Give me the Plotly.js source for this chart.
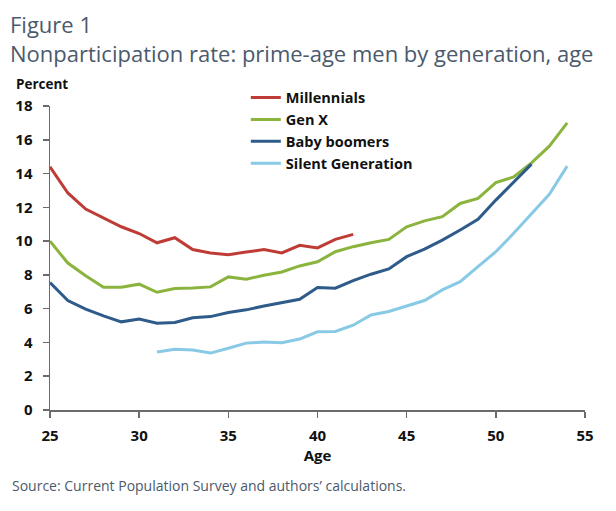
<!DOCTYPE html>
<html>
<head>
<meta charset="utf-8">
<script src="https://cdn.plot.ly/plotly-3.0.1.min.js"></script>
<style>
  html, body { margin: 0; padding: 0; background: #fff; }
  #chart { width: 616px; height: 511px; }
</style>
</head>
<body>
<div id="chart"></div>
<script>
// Data (age -> nonparticipation rate, percent)
const millAges = [25, 26, 27, 28, 29, 30, 31, 32, 33, 34, 35, 36, 37, 38, 39, 40, 41, 42];
const millVals = [14.4, 12.85, 11.9, 11.35, 10.85, 10.45, 9.9, 10.2, 9.5, 9.3, 9.2, 9.35, 9.5, 9.3, 9.75, 9.6, 10.1, 10.4];

const genxAges = [25, 26, 27, 28, 29, 30, 31, 32, 33, 34, 35, 36, 37, 38, 39, 40, 41, 42, 43, 44, 45, 46, 47, 48, 49, 50, 51, 52, 53, 54];
const genxVals = [10.0, 8.7, 7.95, 7.27, 7.27, 7.45, 6.97, 7.19, 7.22, 7.29, 7.88, 7.74, 7.98, 8.17, 8.53, 8.78, 9.37, 9.67, 9.9, 10.1, 10.85, 11.2, 11.45, 12.23, 12.53, 13.47, 13.8, 14.63, 15.62, 17.0];

const boomAges = [25, 26, 27, 28, 29, 30, 31, 32, 33, 34, 35, 36, 37, 38, 39, 40, 41, 42, 43, 44, 45, 46, 47, 48, 49, 50, 51, 52];
const boomVals = [7.55, 6.48, 5.97, 5.57, 5.22, 5.38, 5.14, 5.18, 5.46, 5.53, 5.77, 5.93, 6.16, 6.36, 6.56, 7.25, 7.21, 7.66, 8.04, 8.35, 9.08, 9.53, 10.06, 10.66, 11.29, 12.43, 13.51, 14.56];

const silentAges = [31, 32, 33, 34, 35, 36, 37, 38, 39, 40, 41, 42, 43, 44, 45, 46, 47, 48, 49, 50, 51, 52, 53, 54];
const silentVals = [3.43, 3.6, 3.55, 3.37, 3.66, 3.96, 4.02, 3.98, 4.2, 4.63, 4.65, 5.02, 5.63, 5.83, 6.16, 6.48, 7.11, 7.6, 8.49, 9.37, 10.46, 11.6, 12.77, 14.44];

const seriesNames = ['Millennials', 'Gen X', 'Baby boomers', 'Silent Generation'];
const seriesColors = ['#bf3b35', '#8bb43e', '#2e5b8a', '#88c9e6'];

const xTicks = [25, 30, 35, 40, 45, 50, 55];
const yTicks = [0, 2, 4, 6, 8, 10, 12, 14, 16, 18];

const FONT = '"Open Sans", Lato, sans-serif';
const TITLE_COLOR = '#4b5a6c';

const xs = [millAges, genxAges, boomAges, silentAges];
const ys = [millVals, genxVals, boomVals, silentVals];

const data = seriesNames.map((name, i) => ({
    x: xs[i],
    y: ys[i],
    name: name,
    type: 'scatter',
    mode: 'lines',
    line: { color: seriesColors[i], width: 3 },
    hoverinfo: 'x+y+name'
}));

const layout = {
    width: 616,
    height: 511,
    paper_bgcolor: '#ffffff',
    plot_bgcolor: '#ffffff',
    margin: { l: 50, r: 31, t: 106, b: 101 },
    font: { family: FONT, color: '#111111' },
    title: {
        text: 'Figure 1<br>Nonparticipation rate: prime-age men by generation, age',
        x: 10 / 616,
        xanchor: 'left',
        xref: 'container',
        y: 0.935,
        yanchor: 'top',
        yref: 'container',
        font: { family: FONT, size: 22, color: TITLE_COLOR }
    },
    xaxis: {
        range: [25, 55],
        tickvals: xTicks,
        ticktext: xTicks.map(String),
        showgrid: false,
        zeroline: false,
        showline: true,
        linecolor: '#6b6b6b',
        linewidth: 1.5,
        ticks: 'outside',
        ticklen: 6,
        tickwidth: 1.5,
        tickcolor: '#6b6b6b',
        ticklabelstandoff: 5,
        tickfont: { family: FONT, size: 15, color: '#111111', weight: 'bold' },
        title: {
            text: 'Age',
            standoff: 2,
            font: { family: FONT, size: 15, color: '#111111', weight: 'bold' }
        }
    },
    yaxis: {
        range: [0, 18],
        tickvals: yTicks,
        ticktext: yTicks.map(String),
        showgrid: false,
        zeroline: false,
        showline: true,
        linecolor: '#6b6b6b',
        linewidth: 1.5,
        ticks: 'outside',
        ticklen: 6,
        tickwidth: 1.5,
        tickcolor: '#6b6b6b',
        ticklabelstandoff: 7,
        tickfont: { family: FONT, size: 15, color: '#111111', weight: 'bold' }
    },
    legend: {
        x: 0.366,
        xanchor: 'left',
        y: 1.08,
        yanchor: 'top',
        bgcolor: 'rgba(0,0,0,0)',
        borderwidth: 0,
        itemwidth: 30,
        tracegroupgap: 0,
        font: { family: FONT, size: 14.5, color: '#111111', weight: 'bold' }
    },
    showlegend: true,
    annotations: [
        {
            text: 'Percent',
            xref: 'paper', yref: 'paper',
            x: -0.068, y: 1.035,
            xanchor: 'left', yanchor: 'bottom',
            showarrow: false,
            font: { family: FONT, size: 13.5, color: '#111111', weight: 'bold' }
        },
        {
            text: 'Source: Current Population Survey and authors\u2019 calculations.',
            xref: 'paper', yref: 'paper',
            x: -0.075, y: -0.21,
            xanchor: 'left', yanchor: 'top',
            showarrow: false,
            font: { family: FONT, size: 14, color: TITLE_COLOR }
        }
    ]
};

Plotly.newPlot('chart', data, layout, { displayModeBar: false, staticPlot: true });
</script>
</body>
</html>
